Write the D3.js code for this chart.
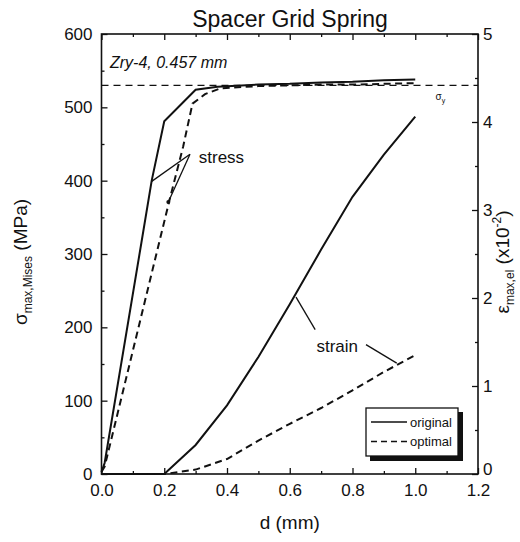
<!DOCTYPE html>
<html>
<head>
<meta charset="utf-8">
<script src="https://cdn.jsdelivr.net/npm/d3@7"></script>
<style>
  body { margin: 0; background: white; }
  text { font-family: "Liberation Sans", Arial, sans-serif; fill: #111; }
</style>
</head>
<body>
<script>
// values
const dStressOrig = [0, 0.01, 0.127, 0.16, 0.2, 0.3, 0.37, 0.5, 0.6, 0.7, 0.8, 0.9, 1.0];
const stressOrig  = [3, 15, 315, 400, 481, 524, 528, 531, 532, 534, 535, 537, 538];

const dStressOpt = [0, 0.01, 0.217, 0.26, 0.29, 0.33, 0.38, 0.5, 0.6, 0.7, 0.8, 0.9, 1.0];
const stressOpt  = [3, 10, 374, 446, 505, 518, 526, 529, 530, 531, 531, 532, 533];

const dStrain     = [0, 0.1, 0.2, 0.3, 0.4, 0.5, 0.6, 0.7, 0.8, 0.9, 1.0];
const strainOrig  = [0, 0, 0, 0.33, 0.78, 1.33, 1.93, 2.55, 3.15, 3.63, 4.06];
const strainOpt   = [0, 0, 0, 0.05, 0.17, 0.38, 0.57, 0.75, 0.95, 1.16, 1.35];

const yieldStress = 530;

const xTicks = [0, 0.2, 0.4, 0.6, 0.8, 1.0, 1.2];
const yTicks = [0, 100, 200, 300, 400, 500, 600];
const rTicks = [0, 1, 2, 3, 4, 5];
const legendNames = ["original", "optimal"];

let width = 520, height = 542;
let svg = d3.select("body").append("svg")
            .attr("width", width).attr("height", height);

let x  = d3.scaleLinear().domain([0, 1.2]).range([101.5, 478]);
let yL = d3.scaleLinear().domain([0, 600]).range([474, 34]);
let yR = d3.scaleLinear().domain([0, 5]).range([474, 34]);

const dashes = "7,4.5";

// axes, ticks pointing inward
function styleAxis(g, size) {
  g.select(".domain").remove();
  g.selectAll("line").attr("stroke", "#111").attr("stroke-width", 1.3);
  g.selectAll("text").attr("font-size", size).attr("fill", "#111");
}

svg.append("g").attr("transform", "translate(0,474)")
   .call(d3.axisBottom(x).tickValues(d3.range(0.1, 1.2, 0.2)).tickSize(-3).tickFormat(""))
   .call(g => styleAxis(g, 0));
svg.append("g").attr("transform", "translate(0,474)")
   .call(d3.axisBottom(x).tickValues(xTicks).tickSize(-6).tickPadding(10).tickFormat(d3.format(".1f")))
   .call(g => styleAxis(g, "17px"));

svg.append("g").attr("transform", "translate(0,34)")
   .call(d3.axisTop(x).tickValues(d3.range(0.1, 1.2, 0.2)).tickSize(-3).tickFormat(""))
   .call(g => styleAxis(g, 0));
svg.append("g").attr("transform", "translate(0,34)")
   .call(d3.axisTop(x).tickValues(xTicks).tickSize(-6).tickFormat(""))
   .call(g => styleAxis(g, 0));

svg.append("g").attr("transform", "translate(101.5,0)")
   .call(d3.axisLeft(yL).tickValues(d3.range(50, 600, 100)).tickSize(-3).tickFormat(""))
   .call(g => styleAxis(g, 0));
svg.append("g").attr("transform", "translate(101.5,0)")
   .call(d3.axisLeft(yL).tickValues(yTicks).tickSize(-6).tickPadding(9))
   .call(g => styleAxis(g, "17px"));

svg.append("g").attr("transform", "translate(478,0)")
   .call(d3.axisRight(yR).tickValues(d3.range(0.5, 5, 1)).tickSize(-3).tickFormat(""))
   .call(g => styleAxis(g, 0));
svg.append("g").attr("transform", "translate(478,0)")
   .call(d3.axisRight(yR).tickValues(rTicks).tickSize(-6).tickPadding(5).tickFormat(d3.format("d")))
   .call(g => styleAxis(g, "17px"))
   .call(g => g.selectAll("text").filter(d => d === 0).attr("dy", "0.05em"));

// frame
svg.append("rect").attr("x", x(0)).attr("y", yL(600))
   .attr("width", x(1.2) - x(0)).attr("height", yL(0) - yL(600))
   .attr("fill", "none").attr("stroke", "#111").attr("stroke-width", 1.6);

// yield line
svg.append("line")
   .attr("x1", x(0)).attr("x2", x(1.2))
   .attr("y1", yL(yieldStress)).attr("y2", yL(yieldStress))
   .attr("stroke", "#111").attr("stroke-width", 1.4).attr("stroke-dasharray", "7,5");

let sy = svg.append("text").attr("x", x(1.08)).attr("y", yL(yieldStress) + 15)
            .attr("font-size", "10px").attr("text-anchor", "middle");
sy.append("tspan").text("σ");
sy.append("tspan").attr("font-size", "7px").attr("dy", 3).text("y");

// curves
let lineL = d3.line().x(d => x(d[0])).y(d => yL(d[1]));
let lineR = d3.line().x(d => x(d[0])).y(d => yR(d[1]));

let curves = [
  { pts: d3.zip(dStressOrig, stressOrig), gen: lineL, dash: null },
  { pts: d3.zip(dStressOpt, stressOpt),   gen: lineL, dash: dashes },
  { pts: d3.zip(dStrain, strainOrig),     gen: lineR, dash: null },
  { pts: d3.zip(dStrain, strainOpt),      gen: lineR, dash: dashes }
];

svg.append("g").selectAll("path").data(curves).enter().append("path")
   .attr("d", c => c.gen(c.pts))
   .attr("fill", "none").attr("stroke", "#111").attr("stroke-width", 2)
   .attr("stroke-dasharray", c => c.dash);

// annotations
svg.append("g").selectAll("line").data([[0.16, 399], [0.213, 371]]).enter().append("line")
   .attr("x1", x(0.282)).attr("y1", yL(436))
   .attr("x2", d => x(d[0])).attr("y2", d => yL(d[1]))
   .attr("stroke", "#111").attr("stroke-width", 1.3);
svg.append("circle").attr("cx", x(0.213)).attr("cy", yL(371)).attr("r", 2).attr("fill", "#111");
svg.append("text").attr("x", x(0.31)).attr("y", yL(424))
   .attr("font-size", "17px").text("stress");

svg.append("line")
   .attr("x1", x(0.681)).attr("y1", yR(1.64))
   .attr("x2", x(0.62)).attr("y2", yR(2.01))
   .attr("stroke", "#111").attr("stroke-width", 1.3);
svg.append("line")
   .attr("x1", x(0.843)).attr("y1", yR(1.47))
   .attr("x2", x(0.941)).attr("y2", yR(1.26))
   .attr("stroke", "#111").attr("stroke-width", 1.3);
svg.append("text").attr("x", x(0.685)).attr("y", yR(1.39))
   .attr("font-size", "17px").text("strain");

svg.append("text").attr("x", 110).attr("y", 68)
   .attr("font-size", "16px").attr("font-style", "italic").text("Zry-4, 0.457 mm");

// legend with shadow
let lg = svg.append("g").attr("transform", "translate(366,408)");
lg.append("rect").attr("x", 4).attr("y", 4).attr("width", 93).attr("height", 49).attr("fill", "#111");
lg.append("rect").attr("width", 92).attr("height", 48)
  .attr("fill", "white").attr("stroke", "#111").attr("stroke-width", 1.3);
let items = lg.selectAll(".legends").data(legendNames).enter().append("g")
  .attr("transform", (d, i) => "translate(0," + (14 + i * 19.5) + ")");
items.append("line").attr("x1", 5).attr("x2", 41)
  .attr("stroke", "#111").attr("stroke-width", 1.5)
  .attr("stroke-dasharray", (d, i) => i ? "6,4" : null);
items.append("text").attr("x", 44).attr("y", 4.5).attr("font-size", "13px").text(d => d);

// titles
svg.append("text").attr("x", 290).attr("y", 27).attr("text-anchor", "middle")
   .attr("font-size", "23px").text("Spacer Grid Spring");
svg.append("text").attr("x", x(0.6)).attr("y", 529).attr("text-anchor", "middle")
   .attr("font-size", "19px").text("d (mm)");

let yl = svg.append("text").attr("transform", "translate(27,262) rotate(-90)")
            .attr("text-anchor", "middle").attr("font-size", "19px");
yl.append("tspan").text("σ");
yl.append("tspan").attr("font-size", "12px").attr("dy", 5).text("max,Mises");
yl.append("tspan").attr("dy", -5).text(" (MPa)");

let yr = svg.append("text").attr("transform", "translate(509,262) rotate(-90)")
            .attr("text-anchor", "middle").attr("font-size", "19px");
yr.append("tspan").text("ε");
yr.append("tspan").attr("font-size", "12px").attr("dy", 5).text("max,el");
yr.append("tspan").attr("dy", -5).text(" (x10");
yr.append("tspan").attr("font-size", "12px").attr("dy", -8).text("-2");
yr.append("tspan").attr("dy", 8).text(")");
</script>
</body>
</html>
